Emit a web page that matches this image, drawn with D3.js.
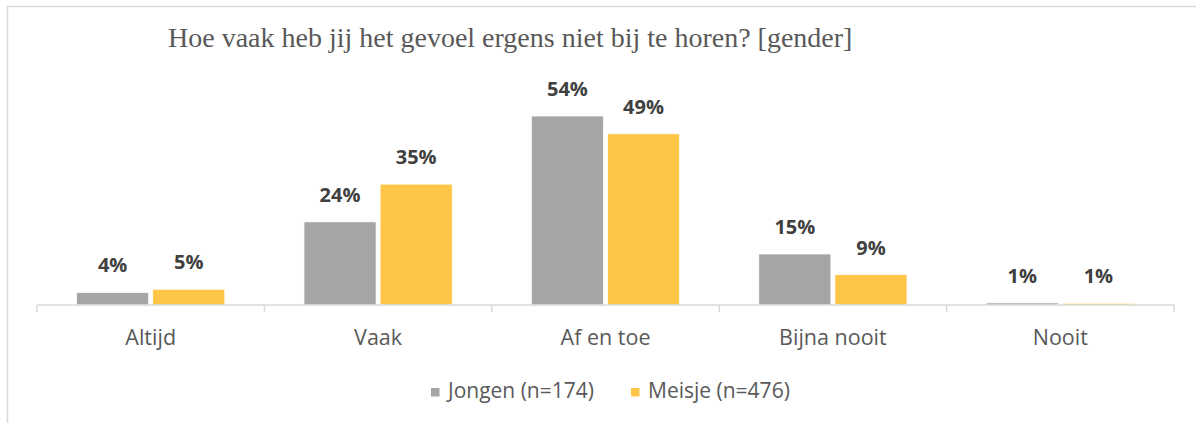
<!DOCTYPE html>
<html>
<head>
<meta charset="utf-8">
<script src="https://cdn.jsdelivr.net/npm/d3@7"></script>
<style>
  html, body { margin: 0; padding: 0; background: #fff; }
  svg { display: block; }
</style>
</head>
<body>
<svg id="chart" width="1196" height="423"></svg>
<script>
const title = "Hoe vaak heb jij het gevoel ergens niet bij te horen? [gender]";
const categories = ["Altijd", "Vaak", "Af en toe", "Bijna nooit", "Nooit"];
const seriesNames = ["Jongen (n=174)", "Meisje (n=476)"];
const seriesColors = ["#a5a5a5", "#ffc546"];
// percentages
const jongen = [3.6, 23.8, 54.1, 14.6, 0.6];
const meisje = [4.5, 34.6, 49.0, 8.7, 0.5];

const width = 1196, height = 423;
const margin = { left: 37, right: 22, axisY: 305, top: 116 };

const svg = d3.select("#chart");

// chart border (runs off the right and bottom of the picture)
svg.append("rect")
  .attr("x", 7.5).attr("y", 6.5)
  .attr("width", 1210).attr("height", 440)
  .attr("fill", "none")
  .attr("stroke", "#d9d9d9")
  .attr("stroke-width", 1.5);

svg.append("text")
  .attr("x", 168).attr("y", 47)
  .attr("font-family", "'Liberation Serif', serif")
  .attr("font-size", 28)
  .attr("fill", "#595959")
  .text(title);

const rows = categories.map((c, i) => ({ cat: c, vals: [jongen[i], meisje[i]] }));

const x0 = d3.scaleBand()
  .domain(categories)
  .range([margin.left, width - margin.right]);

const x1 = d3.scaleBand()
  .domain(d3.range(seriesNames.length))
  .range([0, x0.bandwidth()])
  .paddingInner(0.053)
  .paddingOuter(0.52);

const y = d3.scaleLinear()
  .domain([0, 54.1])
  .range([margin.axisY, margin.top]);

const groups = svg.append("g")
  .selectAll("g")
  .data(rows)
  .join("g")
  .attr("transform", (d) => `translate(${x0(d.cat)},0)`);

groups.selectAll("rect")
  .data((d) => d.vals.map((v, i) => ({ v, i })))
  .join("rect")
  .attr("x", (d) => x1(d.i))
  .attr("width", x1.bandwidth())
  .attr("y", (d) => y(d.v))
  .attr("height", (d) => y(0) - y(d.v))
  .attr("fill", (d) => seriesColors[d.i])
  .attr("stroke", "#fff")
  .attr("stroke-width", 0.75);

groups.selectAll("text")
  .data((d) => d.vals.map((v, i) => ({ v, i })))
  .join("text")
  .attr("x", (d) => x1(d.i) + x1.bandwidth() / 2)
  .attr("y", (d) => y(d.v) - 20)
  .attr("text-anchor", "middle")
  .attr("font-family", "'Open Sans', sans-serif")
  .attr("font-weight", "bold")
  .attr("font-size", 20)
  .attr("fill", "#404040")
  .text((d) => Math.round(d.v) + "%");

// category axis with ticks at the band edges
const axis = svg.append("g").attr("transform", `translate(0,${margin.axisY})`);
axis.append("line")
  .attr("x1", x0.range()[0]).attr("x2", x0.range()[1])
  .attr("stroke", "#d9d9d9").attr("stroke-width", 1.5);
const edges = categories.map((c) => x0(c)).concat([x0.range()[1]]);
axis.selectAll(".tick")
  .data(edges)
  .join("line")
  .attr("class", "tick")
  .attr("x1", (d) => d).attr("x2", (d) => d)
  .attr("y1", 0).attr("y2", 7)
  .attr("stroke", "#d9d9d9").attr("stroke-width", 1.5);
axis.selectAll(".cat")
  .data(categories)
  .join("text")
  .attr("class", "cat")
  .attr("x", (d) => x0(d) + x0.bandwidth() / 2)
  .attr("y", 40)
  .attr("text-anchor", "middle")
  .attr("font-family", "'Open Sans', sans-serif")
  .attr("font-size", 21.5)
  .attr("fill", "#595959")
  .text((d) => d);

// legend
const legendX = [431, 631];
const legend = svg.append("g")
  .selectAll("g")
  .data(seriesNames)
  .join("g")
  .attr("transform", (d, i) => `translate(${legendX[i]},388)`);
legend.append("rect")
  .attr("width", 8.5).attr("height", 8.5)
  .attr("fill", (d, i) => seriesColors[i]);
legend.append("text")
  .attr("x", 17).attr("y", 10)
  .attr("font-family", "'Open Sans', sans-serif")
  .attr("font-size", 21)
  .attr("fill", "#595959")
  .text((d) => d);
</script>
</body>
</html>
